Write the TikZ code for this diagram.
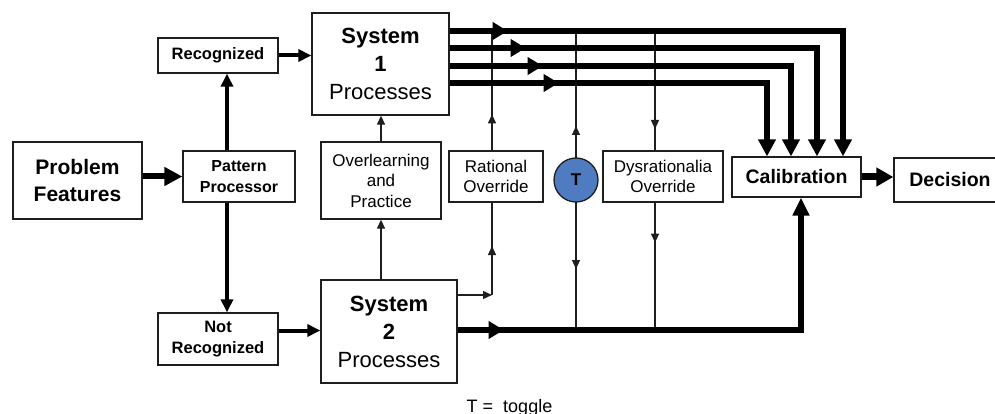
\documentclass[tikz,border=0pt]{standalone}
\usepackage{fontspec}
\setmainfont{Liberation Sans}
\usetikzlibrary{arrows.meta,decorations.markings,calc}
\definecolor{tblue}{RGB}{79,124,193}
\definecolor{ink}{RGB}{30,30,30}
\begin{document}
\begin{tikzpicture}[x=1pt,y=-1pt,
  box/.style={draw=ink,line width=1.3pt,fill=white,inner sep=0pt,align=center,anchor=center,text=black},
  thinln/.style={line width=1.2pt,draw=ink},
  thk/.style={line width=5.5pt,draw=black},
  smallhead/.style={-{Triangle[length=9pt,width=8pt]}},
  medhead/.style={-{Triangle[length=13pt,width=12pt]}},
  bighead/.style={-{Triangle[length=17pt,width=17pt]}},
  marr/.style={postaction={decorate},decoration={markings,mark=at position #1 with {\arrow{Triangle[length=9pt,width=8pt]}}}},
  tmarr/.style={postaction={decorate},decoration={markings,mark=at position #1 with {\arrow{Triangle[length=15pt,width=17pt]}}}},
  fA/.style={font=\fontsize{21}{26.7}\selectfont\bfseries},
  fB/.style={font=\fontsize{16.5}{20.5}\selectfont\bfseries},
  fC/.style={font=\fontsize{17}{20.5}\selectfont},
  fD/.style={font=\fontsize{19.5}{22}\selectfont\bfseries},
  tcirc/.style={circle,draw=ink,line width=1.3pt,fill=tblue,minimum size=44pt,inner sep=0pt,font=\fontsize{17}{17}\selectfont\bfseries}
]
\useasboundingbox (0,0) rectangle (995,414);

% nodes
\node[box,fA,minimum width=129pt,minimum height=77pt] (PF) at (77.5,180.5) {Problem\\Features};
\node[box,font=\fontsize{16}{21.7}\selectfont\bfseries,minimum width=112pt,minimum height=51pt] (PP) at (239,176.5) {Pattern\\Processor};
\node[box,fB,minimum width=120pt,minimum height=35pt] (Rec) at (218,55.5) {Recognized};
\node[box,fB,minimum width=120pt,minimum height=52pt] (NR) at (218,339) {Not\\Recognized};
\node[box,minimum width=137pt,minimum height=102pt,font=\fontsize{22}{28}\selectfont] (S1) at (380.5,64) {\textbf{System}\\\textbf{1}\\Processes};
\node[box,minimum width=136pt,minimum height=103pt,font=\fontsize{22}{28}\selectfont] (S2) at (389,331.5) {\textbf{System}\\\textbf{2}\\Processes};
\node[box,fC,minimum width=120pt,minimum height=77pt] (Over) at (381,180.5) {Overlearning\\and\\Practice};
\node[box,fC,minimum width=94pt,minimum height=51pt] (RO) at (496,176.5) {Rational\\Override};
\node[box,fC,minimum width=120pt,minimum height=51pt] (DO) at (663,176.5) {Dysrationalia\\Override};
\node[box,fD,minimum width=129pt,minimum height=40pt] (Cal) at (796.5,177) {Calibration};
\node[box,fD,minimum width=112pt,minimum height=44pt] (Dec) at (950,180) {Decision};
\node[font=\fontsize{18}{18}\selectfont,anchor=base] (leg) at (509.5,412) {T =\ \ toggle};
\coordinate (T) at (576,180);

% coordinates
\coordinate (k1) at (843,31);
\coordinate (k2) at (817,48);
\coordinate (k3) at (791,66);
\coordinate (k4) at (767,83);
\coordinate (b) at (801,330);
\coordinate (r0) at (492,295);
\coordinate (rt) at (492,31);
\coordinate (tt) at (576,31);
\coordinate (tb) at (576,330);
\coordinate (dt) at (655,31);
\coordinate (db) at (655,330);
\coordinate (na) at ([yshift=8.5pt]NR.east);

% left part
\draw[line width=6pt,-{Triangle[length=18pt,width=18pt]}] (PF.east |- PP.west) -- (PP.west);
\draw[line width=4pt,medhead] ([xshift=-12pt]PP.north) -- ([xshift=-12pt]PP.north |- Rec.south);
\draw[line width=4pt,medhead] ([xshift=-12pt]PP.south) -- ([xshift=-12pt]PP.south |- NR.north);
\draw[line width=4pt,medhead] (Rec.east) -- (S1.west |- Rec.east);
\draw[line width=4pt,medhead] (na) -- (S2.west |- na);

% overlearning
\draw[thinln,smallhead] (S2.north -| Over.south) -- (Over.south);
\draw[thinln,smallhead] (Over.north) -- (Over.north |- S1.south);

% thin vertical lines
\draw[thinln,smallhead] (S2.east |- r0) -- (r0);
\draw[thinln,marr=49pt] (r0) -- (r0 |- RO.south);
\draw[thinln,marr=36pt] (r0 |- RO.north) -- (rt);
\draw[thinln,marr=204pt] (tb) -- (tt);
\draw[thinln,marr=238pt] (tt) -- (tb);
\draw[thinln,marr=98pt] (dt) -- (dt |- DO.north);
\draw[thinln,marr=40pt] (dt |- DO.south) -- (db);

% toggle circle
\node[tcirc] (Tc) at (T) {\raisebox{-3pt}{T}};

% System 1 thick outputs
\draw[thk,tmarr=58pt,bighead] (S1.east |- k1) -- (k1) -- (k1 |- Cal.north);
\draw[thk,tmarr=76pt,bighead] (S1.east |- k2) -- (k2) -- (k2 |- Cal.north);
\draw[thk,tmarr=93pt,bighead] (S1.east |- k3) -- (k3) -- (k3 |- Cal.north);
\draw[thk,tmarr=109pt,bighead] (S1.east |- k4) -- (k4) -- (k4 |- Cal.north);

% System 2 thick output
\draw[line width=5.5pt,tmarr=46pt,-{Triangle[length=18pt,width=16pt]}] (S2.east |- b) -- (b) -- (b |- Cal.south);

% calibration to decision
\draw[line width=7pt,-{Triangle[length=17pt,width=18pt]}] (Cal.east) -- (Cal.east -| Dec.west);
\end{tikzpicture}
\end{document}
